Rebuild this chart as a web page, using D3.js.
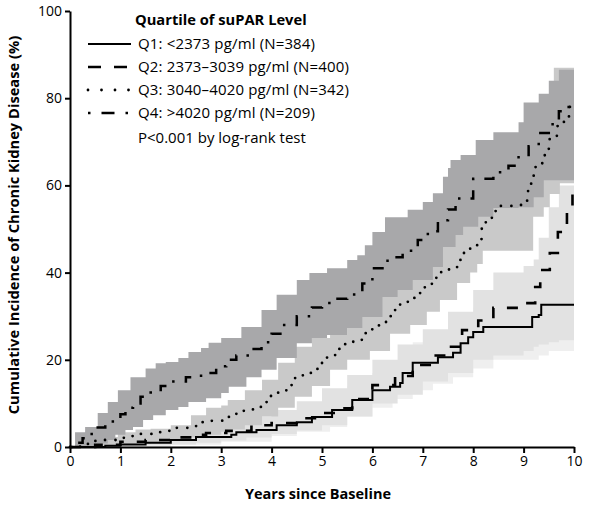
<!DOCTYPE html>
<html><head><meta charset="utf-8">
<script src="https://cdn.jsdelivr.net/npm/d3@7"></script>
<style>
body{margin:0;background:#fff;}
text{font-family:"Open Sans",sans-serif;}
</style></head>
<body><svg id="c" width="591" height="508"></svg>
<script>
// ---- data ----
const yTicks = [0,20,40,60,80,100];
const xTicks = [0,1,2,3,4,5,6,7,8,9,10];
const legendLabels = ["Q1: <2373 pg/ml (N=384)","Q2: 2373\u20133039 pg/ml (N=400)","Q3: 3040\u20134020 pg/ml (N=342)","Q4: >4020 pg/ml (N=209)"];
// [years, cumulative incidence %]
const q1Line = [[0,0],[0.7,0.3],[1.0,0.6],[1.5,1.0],[2.0,1.6],[2.5,2.3],[3.2,2.8],[3.3,3.4],[3.7,3.9],[4.1,5],[4.5,5.7],[4.8,6.9],[5.2,8.5],[5.6,10.8],[6.0,13],[6.35,13.8],[6.55,14.7],[6.6,17],[6.8,19.3],[7.3,20.6],[7.6,21.6],[7.75,23.8],[7.9,25.2],[8.0,26.4],[8.2,27.5],[9.17,29.8],[9.3,30.3],[9.35,32.6],[10,32.6]];
const q2Line = [[0,0],[0.5,0.5],[1.0,1.2],[1.5,1.6],[2.0,2.2],[2.5,2.8],[2.7,3.2],[3.1,3.7],[3.6,5],[4.0,5.5],[4.5,6.6],[5.0,7.8],[5.3,8.9],[5.6,11],[6.0,14.2],[6.45,16.3],[6.8,18.8],[7.2,21],[7.5,23],[7.78,26.8],[8.1,29],[8.4,31.9],[8.93,33],[9.23,36.7],[9.33,40.6],[9.52,44.5],[9.68,49.3],[9.86,53.9],[9.97,58.5],[10,58.5]];
const q3Line = [[0,0],[0.2,0.7],[0.44,1.4],[0.69,1.6],[0.93,2.1],[1.15,2.5],[1.39,3],[1.65,3.4],[1.88,3.7],[2.12,4.4],[2.34,4.8],[2.56,5.7],[2.78,6],[3.02,6.9],[3.21,7.6],[3.43,8.3],[3.63,9.2],[3.81,10.3],[3.97,11.7],[4.13,13],[4.31,14.2],[4.46,15.8],[4.62,17],[4.82,17.9],[5.0,19.5],[5.1,21],[5.26,22.5],[5.46,23.6],[5.62,24.5],[5.79,26.1],[5.99,27],[6.13,28.4],[6.27,30],[6.41,31.4],[6.55,33.3],[6.75,34.2],[6.9,35.3],[7.04,37.2],[7.18,38.8],[7.34,40.1],[7.52,41],[7.68,42.9],[7.8,44.5],[7.94,46.3],[8.08,47.7],[8.17,50.2],[8.25,52.3],[8.37,54.1],[8.55,55.3],[8.79,55.5],[9.0,56.2],[9.07,58.7],[9.15,61.2],[9.2,64.2],[9.37,65.1],[9.42,67.7],[9.5,70.6],[9.66,73.6],[9.8,75.5],[9.9,78],[10,78]];
const q4Line = [[0,0],[0.1,1],[0.25,2],[0.4,3],[0.55,4.5],[0.7,5.5],[0.85,6.5],[1.0,7.5],[1.1,9],[1.25,10],[1.4,11.5],[1.6,12.5],[1.8,14],[2.0,15],[2.3,16],[2.6,17],[2.9,18.5],[3.1,20],[3.3,21],[3.6,22.5],[3.8,24],[4.0,26],[4.2,28],[4.5,30],[4.8,32],[5.0,33],[5.2,34],[5.5,35],[5.8,37.5],[6.0,41],[6.3,43.5],[6.6,45],[6.9,47.5],[7.1,49.5],[7.3,52],[7.5,54.5],[7.65,57],[8.0,61.5],[8.4,63],[8.7,64.5],[8.9,67],[9.1,69],[9.3,72],[9.5,74],[9.7,77],[9.85,78],[10,78]];
// [years, lower %, upper %]
const q1Band = [[0,0,0],[1,0,1.5],[2,0.5,3],[3,1.2,4.5],[4,2.5,7.5],[4.5,3.5,9],[5.16,4.6,11],[5.5,7,14],[6,9,17],[6.4,11,19],[6.8,13,24],[7.2,14.5,26],[7.6,16,28],[8,18,32],[8.4,20,34],[9,20,35],[9.13,20,38],[9.3,21,41],[9.5,22,44],[10,22,44]];
const q2Band = [[0,0,0],[0.5,0,1],[1,0.2,2],[1.5,0.4,3],[2,0.6,3.5],[2.5,1,4.5],[3,1.5,5.5],[3.5,2.2,7],[4,3,8.5],[4.5,3.8,10.5],[5,5,13.5],[5.5,7,16.5],[6,10,20],[6.5,12,23.5],[7,15,27],[7.5,17,31],[8,20,36],[8.4,21,40],[9,22,41.5],[9.2,23,43],[9.3,23.5,48],[9.5,24,55],[9.7,24.5,60],[10,24.5,62]];
const q3Band = [[0,0,0],[0.5,0.2,1.5],[0.7,0.3,2.3],[0.95,0.5,3.4],[1.3,0.7,4],[1.6,1,4.2],[2,1.5,5],[2.4,2.2,7.3],[2.7,2.8,9],[3.0,3.5,9.5],[3.13,4,10.8],[3.47,5,13],[3.81,7,15.4],[4.13,9,19.3],[4.46,11.5,23],[4.8,14,25],[5.16,17.7,25.7],[5.5,20,31],[5.95,22,35],[6.35,26,40],[6.75,28,44],[7.08,31,47],[7.34,33.7,50],[7.68,37.6,53],[7.94,40,56],[8.08,42,60],[8.19,45,63],[9.07,45,67],[9.19,52.8,72],[9.4,55,78],[9.52,58,82],[9.6,58,87],[9.72,60.5,87],[10,61,87]];
const q4Band = [[0,0,0],[0.1,0,3.4],[0.3,0,4.6],[0.5,0.8,4.6],[0.55,0.8,7.8],[0.75,1.6,10.3],[0.9,2.8,10.3],[0.95,2.8,13],[1.1,3.9,13],[1.2,3.9,16],[1.25,4.6,16],[1.45,6.2,16],[1.5,6.2,18],[1.65,7.3,18],[1.7,7.3,19.2],[1.9,8.5,19.5],[2.15,9.2,20.4],[2.35,10.3,21.8],[2.6,10.3,22.7],[2.7,11.2,22.7],[2.75,11.2,23.9],[3.0,12.4,25],[3.15,13.8,25],[3.4,13.8,27.5],[3.5,16,27.5],[3.8,17.7,31.4],[4.1,20.4,34.9],[4.5,23.8,38.3],[4.75,23.8,39.9],[4.8,25,39.9],[5.1,25.7,41],[5.5,27.3,42.9],[5.7,27.3,44],[5.8,29.8,44],[5.85,29.8,46.3],[6.0,29.8,49.3],[6.2,34.4,49.3],[6.25,34.4,52.7],[6.5,36,52.7],[6.7,36,54.4],[6.8,38.3,54.4],[7.0,38.3,56.2],[7.2,41.3,58.2],[7.4,45.9,62],[7.5,45.9,64],[7.55,45.9,65.8],[7.65,48.6,65.8],[7.75,48.6,67],[7.8,50.5,67],[8.05,50.5,70.4],[8.1,52.8,70.4],[8.4,54.8,72.2],[8.9,55,74.5],[9.0,55,79],[9.2,57.3,79],[9.3,57.3,81],[9.4,61.2,81],[9.5,61.2,84],[9.7,61.2,86.5],[10,61.2,86.5]];

const bandColors = ["#efefef","#e2e2e2","#c9c9c9","#a8a8aa"];

// ---- drawing ----
const svg = d3.select("#c");
const x = d3.scaleLinear().domain([0,10]).range([70,574]);
const y = d3.scaleLinear().domain([0,100]).range([447,11]);

const area = d3.area().curve(d3.curveStepAfter).x(d=>x(d[0])).y0(d=>y(d[1])).y1(d=>y(d[2]));
const line = d3.line().curve(d3.curveStepAfter).x(d=>x(d[0])).y(d=>y(d[1]));

[q1Band,q2Band,q3Band,q4Band].forEach((b,i)=>{
  svg.append("path").attr("d",area(b)).attr("fill",bandColors[i]);
});

const styles = [
  {dash:null, w:2, cap:"butt"},
  {dash:"11,13", w:2.6, cap:"butt"},
  {dash:"0,10.5", w:2.8, cap:"round"},
  {dash:"2.5,10,11,10", w:2.5, cap:"butt"}
];
[q1Line,q2Line,q3Line,q4Line].forEach((l,i)=>{
  svg.append("path").attr("d",line(l)).attr("fill","none").attr("stroke","#000")
    .attr("stroke-width",styles[i].w).attr("stroke-dasharray",styles[i].dash)
    .attr("stroke-linecap",styles[i].cap);
});

// axes
const yAxis = svg.append("g").attr("transform","translate(70,0)")
  .call(d3.axisLeft(y).tickValues(yTicks).tickSize(5).tickSizeOuter(0).tickPadding(3));
const xAxis = svg.append("g").attr("transform","translate(0,447)")
  .call(d3.axisBottom(x).tickValues(xTicks).tickSize(6).tickSizeOuter(0).tickPadding(3));
[yAxis,xAxis].forEach(a=>{
  a.selectAll("path,line").attr("stroke","#000").attr("stroke-width",2);
  a.selectAll("text").attr("font-size",14).attr("fill","#000").attr("font-family","'Open Sans',sans-serif");
});

svg.append("text").attr("x",318).attr("y",499).attr("text-anchor","middle")
  .attr("font-size",14.5).attr("font-weight","bold").text("Years since Baseline");
svg.append("text").attr("transform","translate(19,225) rotate(-90)").attr("text-anchor","middle")
  .attr("font-size",14.7).attr("font-weight","bold").text("Cumulative Incidence of Chronic Kidney Disease (%)");

// legend
svg.append("text").attr("x",135).attr("y",25).attr("font-size",14.7).attr("font-weight","bold").text("Quartile of suPAR Level");
const ly = [44,67,90,113];
legendLabels.forEach((t,i)=>{
  svg.append("line").attr("x1",88).attr("x2",131).attr("y1",ly[i]).attr("y2",ly[i])
    .attr("stroke","#000").attr("stroke-width",styles[i].w)
    .attr("stroke-dasharray",i===1?"13,13":i===2?"0,13.5":i===3?"2.5,11,13,11":null)
    .attr("stroke-linecap",styles[i].cap);
  svg.append("text").attr("x",138).attr("y",ly[i]+5).attr("font-size",15).attr("letter-spacing",0.15).text(t);
});
svg.append("text").attr("x",138).attr("y",143).attr("font-size",15).text("P<0.001 by log-rank test");
</script></body></html>
